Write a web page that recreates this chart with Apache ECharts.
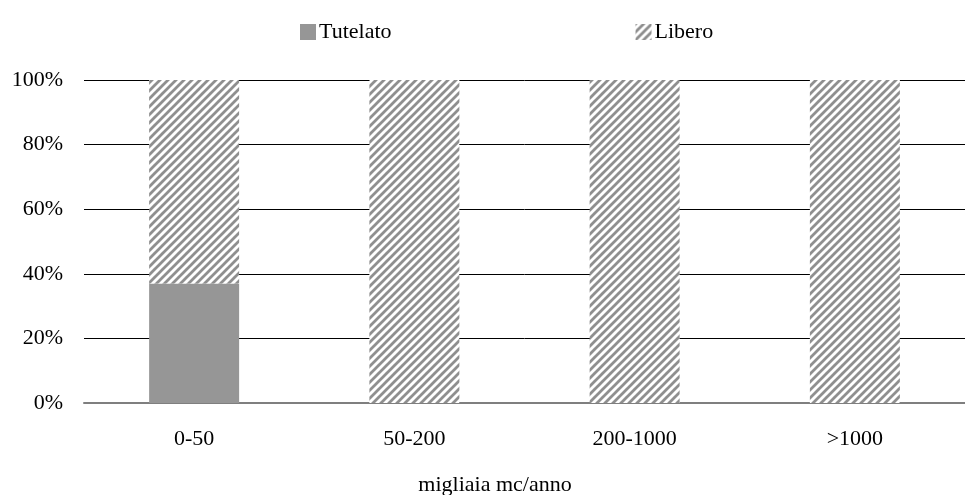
<!DOCTYPE html>
<html>
<head>
<meta charset="utf-8">
<script src="https://cdn.jsdelivr.net/npm/echarts@6/dist/echarts.min.js"></script>
<style>
  html, body { margin: 0; padding: 0; background: #fff; overflow: hidden; }
  #chart { width: 965px; height: 495px; }
</style>
</head>
<body>
<div id="chart"></div>
<script>
const categories = ['0-50', '50-200', '200-1000', '>1000'];
const tutelato = [37, 0, 0, 0];
const libero = [63, 100, 100, 100];
const yTicks = [0, 20, 40, 60, 80, 100];

// tratteggio diagonale per "Libero"
function makeHatch() {
  const c = document.createElement('canvas');
  c.width = 8; c.height = 8;
  const ctx = c.getContext('2d');
  ctx.fillStyle = '#ffffff';
  ctx.fillRect(0, 0, 8, 8);
  ctx.strokeStyle = '#8f8f8f';
  ctx.lineWidth = 2.8;
  ctx.beginPath();
  ctx.moveTo(0, 8); ctx.lineTo(8, 0);
  ctx.moveTo(-2, 2); ctx.lineTo(2, -2);
  ctx.moveTo(6, 10); ctx.lineTo(10, 6);
  ctx.stroke();
  return c;
}
const hatch = { image: makeHatch(), repeat: 'repeat' };

const font = 'Liberation Serif';
const myChart = echarts.init(document.getElementById('chart'));
myChart.setOption({
  animation: false,
  textStyle: { fontFamily: font },
  legend: {
    top: 16,
    left: 295,
    itemGap: 244,
    itemWidth: 16,
    itemHeight: 16,
    icon: 'rect',
    textStyle: { fontFamily: font, fontSize: 22, color: '#000', padding: [0, 0, 0, -2] },
    data: ['Tutelato', 'Libero']
  },
  // l'area del grafico sborda a destra come nell'originale
  grid: { left: 84, top: 80, width: 894, bottom: 92 },
  xAxis: {
    type: 'category',
    data: categories,
    axisTick: { show: false },
    axisLine: { lineStyle: { color: '#7f7f7f', width: 2 } },
    axisLabel: { fontFamily: font, fontSize: 22, color: '#000', margin: 25 }
  },
  yAxis: {
    type: 'value',
    min: 0,
    max: 100,
    interval: 20,
    axisLabel: {
      fontFamily: font, fontSize: 22, color: '#000', margin: 21,
      formatter: v => yTicks.includes(v) ? v + '%' : ''
    },
    axisLine: { show: false },
    axisTick: { show: false },
    splitLine: { lineStyle: { color: '#000', width: 1 } }
  },
  graphic: [{
    type: 'text',
    x: 495,
    y: 485,
    style: {
      text: 'migliaia mc/anno',
      font: '22px "Liberation Serif"',
      fill: '#000',
      textAlign: 'center',
      textVerticalAlign: 'middle'
    }
  }],
  series: [
    {
      name: 'Tutelato',
      type: 'bar',
      stack: 'tot',
      barWidth: 90,
      data: tutelato,
      itemStyle: { color: '#969696' }
    },
    {
      name: 'Libero',
      type: 'bar',
      stack: 'tot',
      barWidth: 90,
      data: libero,
      itemStyle: { color: hatch }
    }
  ]
});
</script>
</body>
</html>
